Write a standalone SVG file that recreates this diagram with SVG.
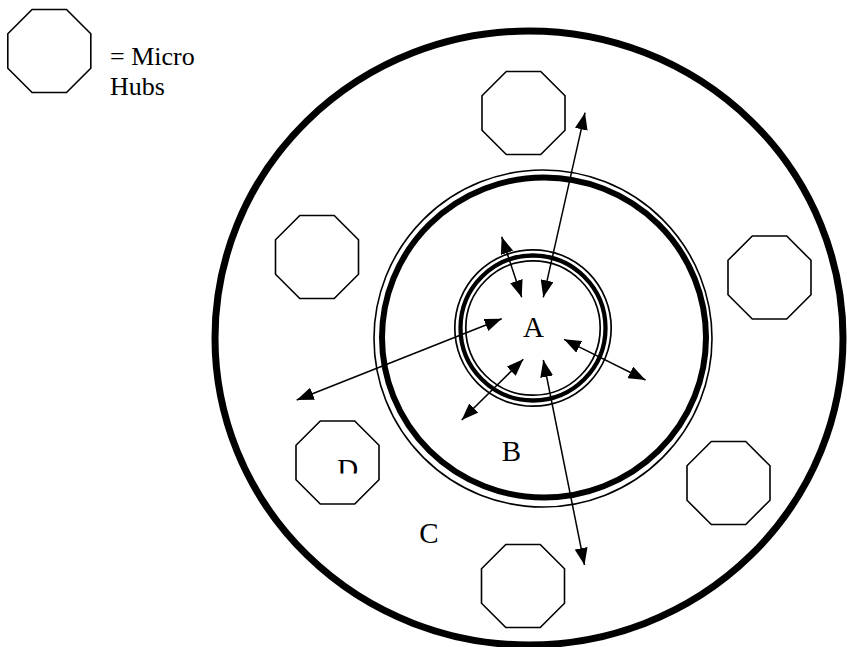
<svg xmlns="http://www.w3.org/2000/svg" xmlns:xlink="http://www.w3.org/1999/xlink" width="847" height="647" viewBox="0 0 847 647">
<style>
.oct{fill:none;stroke:#000;stroke-width:1.6}
.ring{fill:none;stroke:#000}
.lbl{font-family:"Liberation Serif","Times New Roman",serif;fill:#000}
.conn{fill:none;stroke:#000;stroke-width:1.5;marker-start:url(#ah);marker-end:url(#ah)}
</style>
<defs>
<path id="octagon" d="M24.3,0 L58.7,0 L83,24.3 L83,58.7 L58.7,83 L24.3,83 L0,58.7 L0,24.3 Z"/>
<marker id="ah" viewBox="0 0 17 13" refX="17" refY="6.5" markerWidth="17" markerHeight="13" markerUnits="userSpaceOnUse" orient="auto-start-reverse">
<path d="M0,0 L17,6.5 L0,13 Z" fill="#000"/>
</marker>
<clipPath id="clipD"><rect x="320" y="440" width="60" height="33.5"/></clipPath>
</defs>
<rect width="847" height="647" fill="#fff"/>

<g id="legend">
<use href="#octagon" xlink:href="#octagon" class="oct" transform="translate(7.8,9.5)"/>
<text class="lbl" x="110" y="65" font-size="26">= Micro</text>
<text class="lbl" x="110" y="94.5" font-size="26">Hubs</text>
</g>

<g id="zone-C">
<ellipse class="ring" cx="529" cy="338" rx="314" ry="307" stroke-width="7"/>
<text class="lbl" x="429" y="542.7" font-size="29" text-anchor="middle">C</text>
</g>

<g id="zone-B">
<ellipse class="ring" cx="543" cy="338.5" rx="169" ry="168.5" stroke-width="1.6"/>
<ellipse class="ring" cx="544" cy="337.5" rx="162" ry="160" stroke-width="6"/>
<text class="lbl" x="511.3" y="461" font-size="29" text-anchor="middle">B</text>
</g>

<g id="zone-A">
<circle class="ring" cx="533" cy="328" r="78.2" stroke-width="1.7"/>
<circle class="ring" cx="533" cy="328" r="72.5" stroke-width="4.3"/>
<circle class="ring" cx="533" cy="328" r="67.2" stroke-width="1.7"/>
<text class="lbl" x="533.4" y="337.3" font-size="29" text-anchor="middle">A</text>
</g>

<g id="hub-top"><use href="#octagon" xlink:href="#octagon" class="oct" transform="translate(482,71.5)"/></g>
<g id="hub-left"><use href="#octagon" xlink:href="#octagon" class="oct" transform="translate(275.5,215.5)"/></g>
<g id="hub-right"><use href="#octagon" xlink:href="#octagon" class="oct" transform="translate(728,236)"/></g>
<g id="hub-D">
<use href="#octagon" xlink:href="#octagon" class="oct" transform="translate(296,421)"/>
<text class="lbl" x="347.8" y="479.2" font-size="29" text-anchor="middle" clip-path="url(#clipD)">D</text>
</g>
<g id="hub-lower-right"><use href="#octagon" xlink:href="#octagon" class="oct" transform="translate(687,441.5)"/></g>
<g id="hub-bottom"><use href="#octagon" xlink:href="#octagon" class="oct" transform="translate(481.5,544.5)"/></g>

<g id="connectors">
<line class="conn" x1="585" y1="112.7" x2="543.3" y2="297.3"/>
<line class="conn" x1="501.7" y1="236.7" x2="521.7" y2="297.3"/>
<line class="conn" x1="501.7" y1="318.7" x2="296.7" y2="400"/>
<line class="conn" x1="564" y1="339.3" x2="645.5" y2="380"/>
<line class="conn" x1="523.3" y1="359.3" x2="461.7" y2="420"/>
<line class="conn" x1="543.3" y1="360" x2="584.5" y2="565"/>
</g>
</svg>
